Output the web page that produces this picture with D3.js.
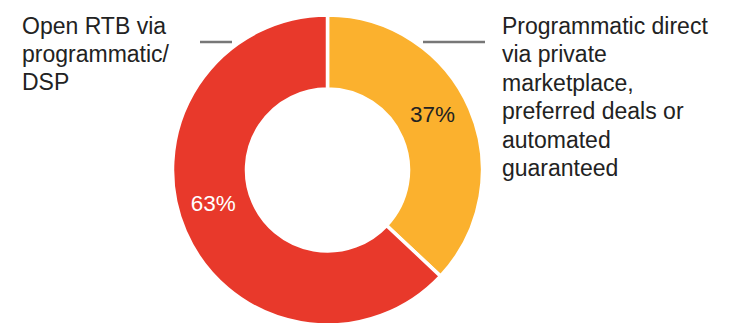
<!DOCTYPE html>
<html>
<head>
<meta charset="utf-8">
<script src="https://cdn.jsdelivr.net/npm/d3@7"></script>
<style>
  body { margin: 0; background: #fff; }
  text { font-family: "Liberation Sans", Arial, sans-serif; }
</style>
</head>
<body>
<div id="chart"></div>
<script>
const categories = [
  "Programmatic direct via private marketplace, preferred deals or automated guaranteed",
  "Open RTB via programmatic/ DSP"
];
const values = [37, 63];
const colors = ["#FBB12E", "#E8392B"];
const labelColors = ["#222222", "#ffffff"];
const rightLines = ["Programmatic direct", "via private", "marketplace,", "preferred deals or", "automated", "guaranteed"];
const leftLines = ["Open RTB via", "programmatic/", "DSP"];

const width = 736, height = 323;
const cx = 327.5, cy = 170;
const outerR = 155, innerR = 81;

const svg = d3.select("#chart")
  .append("svg")
  .attr("width", width)
  .attr("height", height);

const g = svg.append("g").attr("transform", `translate(${cx},${cy})`);

const pie = d3.pie().sort(null).value(d => d);
const arc = d3.arc().innerRadius(innerR).outerRadius(outerR);

const arcs = pie(values);

g.selectAll("path")
  .data(arcs)
  .enter()
  .append("path")
  .attr("d", arc)
  .attr("fill", (d, i) => colors[i])
  .attr("stroke", "#fff")
  .attr("stroke-width", 3.5);

// percentage labels, nudged a bit off the slice middle like the original
const labelR = 119;
const nudges = [-0.08, 0.125];
const labelPos = (d, i) => {
  const a = (d.startAngle + d.endAngle) / 2 + nudges[i];
  return [labelR * Math.sin(a), -labelR * Math.cos(a)];
};

g.selectAll("text.pct")
  .data(arcs)
  .enter()
  .append("text")
  .attr("class", "pct")
  .attr("x", (d, i) => labelPos(d, i)[0])
  .attr("y", (d, i) => labelPos(d, i)[1])
  .attr("dy", "0.35em")
  .attr("text-anchor", "middle")
  .attr("font-size", 22.5)
  .attr("fill", (d, i) => labelColors[i])
  .text(d => d.data + "%");

// leader lines
svg.append("line")
  .attr("x1", 423).attr("x2", 485)
  .attr("y1", 42).attr("y2", 42)
  .attr("stroke", "#777").attr("stroke-width", 2.5);
svg.append("line")
  .attr("x1", 200).attr("x2", 232)
  .attr("y1", 42).attr("y2", 42)
  .attr("stroke", "#777").attr("stroke-width", 2.5);

// category labels
const lineH = 28.4;
svg.append("text")
  .attr("font-size", 23).attr("fill", "#222")
  .selectAll("tspan")
  .data(rightLines)
  .enter()
  .append("tspan")
  .attr("x", 502)
  .attr("y", (d, i) => 34 + i * lineH)
  .text(d => d);

svg.append("text")
  .attr("font-size", 23).attr("fill", "#222")
  .selectAll("tspan")
  .data(leftLines)
  .enter()
  .append("tspan")
  .attr("x", 22)
  .attr("y", (d, i) => 33.5 + i * lineH)
  .text(d => d);
</script>
</body>
</html>
